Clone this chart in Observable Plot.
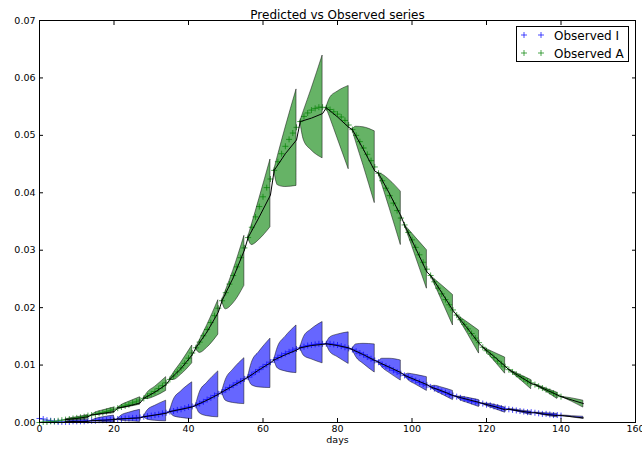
<!DOCTYPE html>
<html><head><meta charset="utf-8">
<script src="https://cdn.jsdelivr.net/npm/d3@7"></script>
<script src="https://cdn.jsdelivr.net/npm/@observablehq/plot@0.6"></script>
<style>
body{margin:0;background:#fff;}
#wrap{position:relative;width:642px;height:451px;font-family:"DejaVu Sans",sans-serif;}
#legend{position:absolute;left:516px;top:26px;}
</style></head><body><div id="wrap"></div>
<script>
const title = "Predicted vs Observed series";
const xLabel = "days";
const seriesNames = ["Observed I", "Observed A"];
const xTicks = [0,20,40,60,80,100,120,140,160];
const yTicks = [0,0.01,0.02,0.03,0.04,0.05,0.06,0.07];

const segStart = [7,14,21,28,35,42,49,56,63,70,77,84,91,98,105,112,119,126,133,140];
const meanOffsets = [0,3,6];
const bandOffsets = [0,1,3,6];

const obsI = [.0007,.0006,.0004,.0003,.0002,.0001,.0001,.0001,.0001,.0002,
.0002,.0002,.0002,.0003,.0003,.0003,.0004,.0004,.0004,.0005,
.0005,.0006,.0006,.0007,.0007,.0008,.0008,.0009,.0010,.0011,
.0012,.0013,.0014,.0016,.0017,.0019,.0020,.0022,.0023,.0025,
.0027,.0028,.0030,.0033,.0036,.0040,.0043,.0047,.0050,.0053,
.0057,.0061,.0065,.0069,.0072,.0076,.0079,.0083,.0088,.0092,
.0097,.0101,.0105,.0109,.0113,.0117,.0120,.0123,.0126,.0128,
.0130,.0132,.0134,.0135,.0136,.0137,.0137,.0137,.0137,.0136,
.0135,.0133,.0131,.0129,.0127,.0124,.0121,.0118,.0114,.0111,
.0108,.0105,.0101,.0098,.0095,.0091,.0088,.0085,.0082,.0079,
.0076,.0073,.0070,.0067,.0065,.0062,.0059,.0057,.0054,.0052,
.0049,.0047,.0045,.0043,.0041,.0039,.0037,.0036,.0034,.0033,
.0031,.0030,.0028,.0027,.0025,.0024,.0023,.0022,.0021,.0020,
.0019,.0018,.0018,.0017,.0016,.0015,.0015,.0014,.0013,.0013,
.0012];

const obsA = [.0000,.0001,.0001,.0002,.0002,.0003,.0004,.0005,.0006,.0007,
.0008,.0009,.0010,.0012,.0013,.0014,.0016,.0017,.0019,.0021,
.0023,.0025,.0027,.0029,.0031,.0034,.0036,.0039,.0042,.0046,
.0050,.0054,.0059,.0064,.0069,.0075,.0081,.0088,.0095,.0103,
.0112,.0121,.0130,.0140,.0151,.0162,.0174,.0186,.0199,.0212,
.0226,.0241,.0256,.0271,.0287,.0304,.0322,.0340,.0358,.0376,
.0393,.0409,.0424,.0439,.0454,.0468,.0481,.0493,.0504,.0514,
.0524,.0533,.0539,.0544,.0547,.0549,.0549,.0548,.0545,.0541,
.0537,.0532,.0526,.0518,.0510,.0500,.0489,.0478,.0467,.0456,
.0445,.0434,.0421,.0408,.0395,.0382,.0369,.0356,.0344,.0331,
.0318,.0305,.0292,.0279,.0267,.0256,.0245,.0234,.0224,.0214,
.0205,.0196,.0187,.0179,.0171,.0163,.0155,.0147,.0139,.0131,
.0125,.0119,.0113,.0107,.0102,.0097,.0092,.0088,.0084,.0080,
.0076,.0072,.0069,.0066,.0063,.0060,.0057,.0054,.0051,.0048,
.0045];

const meanI = [
[.0001,.0002,.0002],[.0003,.0004,.0005],[.0006,.0007,.0008],[.0010,.0013,.0016],
[.0019,.0023,.0027],[.0030,.0039,.0049],[.0053,.0064,.0075],[.0079,.0092,.0104],
[.0109,.0118,.0126],[.0130,.0134,.0136],[.0137,.0134,.0130],[.0127,.0118,.0108],
[.0105,.0096,.0087],[.0082,.0074,.0066],[.0062,.0055,.0047],[.0045,.0040,.0035],
[.0033,.0028,.0022],[.0023,.0020,.0017],[.0017,.0014,.0012],[.0012,.0010,.0008]];
const hiI = [
[.0001,.0003,.0004,.0005],[.0003,.0006,.0009,.0012],[.0006,.0012,.0017,.0022],[.0010,.0021,.0029,.0038],
[.0019,.0039,.0054,.0070],[.0030,.0052,.0069,.0089],[.0053,.0074,.0092,.0112],[.0079,.0104,.0123,.0146],
[.0109,.0131,.0149,.0169],[.0130,.0149,.0162,.0175],[.0137,.0148,.0153,.0157],[.0127,.0136,.0137,.0136],
[.0105,.0111,.0111,.0108],[.0082,.0085,.0083,.0079],[.0062,.0064,.0061,.0055],[.0045,.0045,.0043,.0039],
[.0033,.0033,.0031,.0026],[.0023,.0023,.0021,.0019],[.0017,.0017,.0016,.0015],[.0012,.0012,.0011,.0010]];
const loI = [
[.0001,.0001,.0001,.0000],[.0003,.0002,.0001,.0000],[.0006,.0003,.0002,.0001],[.0010,.0005,.0003,.0002],
[.0019,.0011,.0008,.0006],[.0030,.0016,.0011,.0009],[.0053,.0038,.0034,.0032],[.0079,.0065,.0061,.0060],
[.0109,.0094,.0089,.0086],[.0130,.0116,.0110,.0103],[.0137,.0123,.0114,.0102],[.0127,.0114,.0102,.0087],
[.0105,.0096,.0086,.0073],[.0082,.0074,.0066,.0055],[.0062,.0056,.0049,.0039],[.0045,.0039,.0034,.0027],
[.0033,.0029,.0024,.0017],[.0023,.0021,.0018,.0013],[.0017,.0015,.0012,.0009],[.0012,.0011,.0009,.0006]];

const meanA = [
[.0005,.0007,.0010],[.0013,.0016,.0019],[.0025,.0029,.0034],[.0042,.0053,.0066],
[.0075,.0094,.0118],[.0130,.0158,.0192],[.0212,.0252,.0300],[.0322,.0358,.0396],
[.0439,.0468,.0492],[.0524,.0530,.0538],[.0548,.0532,.0514],[.0510,.0475,.0438],
[.0434,.0398,.0360],[.0344,.0303,.0262],[.0256,.0226,.0195],[.0187,.0163,.0138],
[.0131,.0115,.0098],[.0092,.0080,.0068],[.0066,.0057,.0048],[.0045,.0039,.0033]];
const hiA = [
[.0005,.0007,.0009,.0013],[.0013,.0017,.0021,.0026],[.0025,.0030,.0036,.0044],[.0042,.0052,.0062,.0079],
[.0075,.0086,.0104,.0134],[.0130,.0143,.0169,.0213],[.0212,.0229,.0264,.0325],[.0322,.0344,.0389,.0458],
[.0439,.0464,.0512,.0580],[.0524,.0543,.0580,.0639],[.0548,.0565,.0576,.0586],[.0510,.0515,.0514,.0507],
[.0434,.0432,.0422,.0402],[.0344,.0337,.0322,.0300],[.0256,.0250,.0239,.0222],[.0187,.0183,.0174,.0160],
[.0131,.0128,.0122,.0113],[.0092,.0089,.0083,.0074],[.0066,.0064,.0059,.0052],[.0045,.0044,.0042,.0038]];
const loA = [
[.0005,.0005,.0005,.0007],[.0013,.0013,.0014,.0016],[.0025,.0025,.0027,.0031],[.0042,.0041,.0045,.0055],
[.0075,.0074,.0083,.0103],[.0130,.0121,.0130,.0153],[.0212,.0197,.0207,.0238],[.0322,.0309,.0318,.0340],
[.0439,.0413,.0410,.0412],[.0524,.0491,.0474,.0460],[.0548,.0531,.0495,.0441],[.0510,.0488,.0447,.0382],
[.0434,.0414,.0373,.0309],[.0344,.0326,.0289,.0233],[.0256,.0242,.0213,.0169],[.0187,.0176,.0154,.0120],
[.0131,.0123,.0108,.0085],[.0092,.0086,.0075,.0058],[.0066,.0062,.0054,.0041],[.0045,.0042,.0036,.0026]];

const colI = "#0000ff", colA = "#008000";

function bandRows(lo, hi, tag) {
  const rows = [];
  segStart.forEach((s, k) => bandOffsets.forEach((o, j) =>
    rows.push({day: s + o, lo: lo[k][j], hi: hi[k][j], seg: tag + k})));
  return rows;
}
function meanRows(mean) {
  const rows = [];
  segStart.forEach((s, k) => meanOffsets.forEach((o, j) => rows.push({day: s + o, v: mean[k][j]})));
  return rows;
}
const obsRows = arr => arr.map((v, i) => ({day: i, v}));

const bandStyle = {x: "day", y1: "lo", y2: "hi", z: "seg", fillOpacity: 0.6,
  stroke: "#000", strokeOpacity: 0.6, strokeWidth: 0.8, curve: "monotone-x"};
const axisStyle = {tickSize: -4, fontSize: 9.5, label: null, stroke: "#000", fill: "#000"};

const chart = Plot.plot({
  width: 642, height: 451,
  marginLeft: 39, marginRight: 7, marginTop: 20, marginBottom: 29,
  style: {fontFamily: "DejaVu Sans, sans-serif", background: "#fff", color: "#000"},
  x: {domain: [0, 160]},
  y: {domain: [0, 0.07]},
  marks: [
    Plot.dot(obsRows(obsI), {x: "day", y: "v", symbol: "plus", r: 2.1, stroke: colI, strokeWidth: 1, strokeOpacity: 0.7}),
    Plot.dot(obsRows(obsA), {x: "day", y: "v", symbol: "plus", r: 2.1, stroke: colA, strokeWidth: 1, strokeOpacity: 0.7}),
    Plot.areaY(bandRows(loI, hiI, "I"), {...bandStyle, fill: colI}),
    Plot.areaY(bandRows(loA, hiA, "A"), {...bandStyle, fill: colA}),
    Plot.lineY(meanRows(meanI), {x: "day", y: "v", stroke: "#000", strokeWidth: 1}),
    Plot.lineY(meanRows(meanA), {x: "day", y: "v", stroke: "#000", strokeWidth: 1}),
    Plot.frame({stroke: "#000", strokeWidth: 1}),
    Plot.axisX({...axisStyle, anchor: "bottom", ticks: xTicks, tickPadding: 7, tickFormat: d => String(d)}),
    Plot.axisX({...axisStyle, anchor: "top", ticks: xTicks, tickFormat: () => ""}),
    Plot.axisY({...axisStyle, anchor: "left", ticks: yTicks, tickPadding: 8, tickFormat: d3.format(".2f")}),
    Plot.axisY({...axisStyle, anchor: "right", ticks: yTicks, tickFormat: () => ""}),
    Plot.text([title], {frameAnchor: "top", dy: -10, fontSize: 12, fill: "#000"}),
    Plot.text([xLabel], {frameAnchor: "bottom", dy: 20, fontSize: 9.5, fill: "#000"})
  ]
});
document.getElementById("wrap").appendChild(chart);

// legend
const leg = d3.select("#wrap").append("svg").attr("id", "legend")
  .attr("width", 114).attr("height", 37);
leg.append("rect").attr("x", 0.5).attr("y", 0.5).attr("width", 112).attr("height", 35)
  .attr("fill", "#fff").attr("stroke", "#000").attr("stroke-width", 1);
[[seriesNames[0], colI], [seriesNames[1], colA]].forEach(([name, c], i) => {
  const cy = 9 + i * 18;
  [8, 25].forEach(cx => leg.append("path")
    .attr("d", `M${cx - 3},${cy}h6M${cx},${cy - 3}v6`)
    .attr("stroke", c).attr("stroke-opacity", 0.7).attr("stroke-width", 1).attr("fill", "none"));
  leg.append("text").attr("x", 38).attr("y", cy + 4.5).attr("font-size", 12)
    .attr("font-family", "DejaVu Sans, sans-serif").attr("fill", "#000").text(name);
});
</script></body></html>
